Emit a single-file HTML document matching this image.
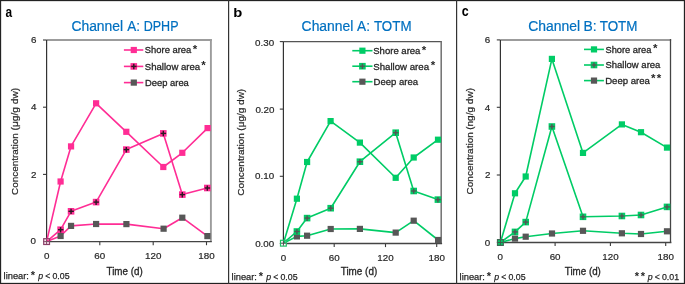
<!DOCTYPE html>
<html><head><meta charset="utf-8"><style>
html,body{margin:0;padding:0;background:#fff;width:685px;height:284px;overflow:hidden}
svg{display:block;will-change:transform}
text{font-family:"Liberation Sans", sans-serif}
</style></head><body>
<svg width="685" height="284" viewBox="0 0 685 284" font-family='"Liberation Sans", sans-serif'>
<rect x="0" y="0" width="685" height="284" fill="#fff"/>
<text x="5.44" y="17.00" font-size="14.5" font-weight="bold" fill="#000" textLength="6.61" lengthAdjust="spacingAndGlyphs" >a</text>
<text x="71.41" y="30.80" font-size="13.8" fill="#0070c0" stroke="#0070c0" stroke-width="0.2" textLength="51.70" lengthAdjust="spacingAndGlyphs" >Channel</text>
<text x="127.20" y="30.80" font-size="13.8" fill="#0070c0" stroke="#0070c0" stroke-width="0.2" textLength="12.78" lengthAdjust="spacingAndGlyphs" >A:</text>
<text x="143.70" y="30.80" font-size="13.8" fill="#0070c0" stroke="#0070c0" stroke-width="0.2" textLength="34.81" lengthAdjust="spacingAndGlyphs" >DPHP</text>
<line x1="46.6" y1="40.0" x2="211.85" y2="40.0" stroke="#9c9c9c" stroke-width="1.9"/>
<line x1="210.9" y1="39.05" x2="210.9" y2="241.6" stroke="#9c9c9c" stroke-width="1.9"/>
<line x1="43.0" y1="241.6" x2="46.6" y2="241.6" stroke="#3a3a3a" stroke-width="1.1"/>
<line x1="43.0" y1="174.4" x2="46.6" y2="174.4" stroke="#3a3a3a" stroke-width="1.1"/>
<line x1="43.0" y1="107.2" x2="46.6" y2="107.2" stroke="#3a3a3a" stroke-width="1.1"/>
<line x1="43.0" y1="40.0" x2="46.6" y2="40.0" stroke="#3a3a3a" stroke-width="1.1"/>
<text x="30.90" y="42.88" font-size="9.8" fill="#262626" stroke="#262626" stroke-width="0.2">6</text>
<text x="30.91" y="110.08" font-size="9.8" fill="#262626" stroke="#262626" stroke-width="0.2">4</text>
<text x="30.90" y="177.98" font-size="9.8" fill="#262626" stroke="#262626" stroke-width="0.2">2</text>
<text x="30.40" y="244.48" font-size="9.8" fill="#262626" stroke="#262626" stroke-width="0.2">0</text>
<text transform="translate(46.6,258.9) scale(1.0,1)" font-size="9.8" text-anchor="middle" fill="#262626" stroke="#262626" stroke-width="0.2" font-weight="normal" >0</text>
<line x1="99.8" y1="241.6" x2="99.8" y2="245.2" stroke="#3a3a3a" stroke-width="1.1"/>
<text transform="translate(99.8,258.9) scale(1.0,1)" font-size="9.8" text-anchor="middle" fill="#262626" stroke="#262626" stroke-width="0.2" font-weight="normal" >60</text>
<line x1="153.2" y1="241.6" x2="153.2" y2="245.2" stroke="#3a3a3a" stroke-width="1.1"/>
<text transform="translate(153.2,258.9) scale(1.0,1)" font-size="9.8" text-anchor="middle" fill="#262626" stroke="#262626" stroke-width="0.2" font-weight="normal" >120</text>
<line x1="206.5" y1="241.6" x2="206.5" y2="245.2" stroke="#3a3a3a" stroke-width="1.1"/>
<text transform="translate(206.5,258.9) scale(1.0,1)" font-size="9.8" text-anchor="middle" fill="#262626" stroke="#262626" stroke-width="0.2" font-weight="normal" >180</text>
<line x1="46.6" y1="40.0" x2="46.6" y2="241.6" stroke="#333" stroke-width="1.2"/>
<line x1="46.6" y1="241.6" x2="211.8" y2="241.6" stroke="#444" stroke-width="1.3"/>
<g transform="translate(17.7,0) rotate(-90)"><text x="-194.90" y="0.00" font-size="9.4" fill="#262626" stroke="#262626" stroke-width="0.2" textLength="61.75" lengthAdjust="spacingAndGlyphs" >Concentration</text><text x="-130.41" y="0.00" font-size="9.4" fill="#262626" stroke="#262626" stroke-width="0.2" textLength="42.50" lengthAdjust="spacingAndGlyphs" >(μg/g dw)</text></g>
<text x="106.55" y="275.00" font-size="10.4" fill="#262626" stroke="#262626" stroke-width="0.3" textLength="36.14" lengthAdjust="spacingAndGlyphs" >Time (d)</text>
<text x="3.57" y="278.50" font-size="9.4" fill="#262626" stroke="#262626" stroke-width="0.25" textLength="25.38" lengthAdjust="spacingAndGlyphs" >linear:</text>
<text x="30.86" y="279.06" font-size="11.00" font-weight="bold" fill="#262626">*</text>
<text x="38.30" y="278.50" font-size="9.4" font-style="italic" fill="#262626" stroke="#262626" stroke-width="0.25" textLength="4.89" lengthAdjust="spacingAndGlyphs" >p</text>
<text x="45.29" y="278.50" font-size="9.4" fill="#262626" stroke="#262626" stroke-width="0.25" textLength="5.07" lengthAdjust="spacingAndGlyphs" >&lt;</text>
<text x="52.47" y="278.50" font-size="9.4" fill="#262626" stroke="#262626" stroke-width="0.25" textLength="17.11" lengthAdjust="spacingAndGlyphs" >0.05</text>
<polyline points="46.6,241.6 60.6,236.0 71.0,225.9 96.1,224.0 126.4,224.1 163.6,228.7 182.3,217.7 207.4,236.1" fill="none" stroke="#ff2d95" stroke-width="1.6" stroke-linejoin="round"/>
<polyline points="46.6,241.6 60.6,229.7 71.0,211.3 96.1,202.1 126.3,149.6 163.3,133.4 182.3,194.6 207.3,188.0" fill="none" stroke="#ff2d95" stroke-width="1.6" stroke-linejoin="round"/>
<polyline points="46.6,241.6 60.6,181.5 71.0,146.4 96.1,103.3 126.3,131.8 163.3,167.0 182.3,152.8 207.6,128.1" fill="none" stroke="#ff2d95" stroke-width="1.6" stroke-linejoin="round"/>
<rect x="57.50" y="232.90" width="6.2" height="6.2" fill="#575757"/>
<rect x="67.95" y="222.80" width="6.2" height="6.2" fill="#575757"/>
<rect x="93.00" y="220.90" width="6.2" height="6.2" fill="#575757"/>
<rect x="123.30" y="221.00" width="6.2" height="6.2" fill="#575757"/>
<rect x="160.50" y="225.60" width="6.2" height="6.2" fill="#575757"/>
<rect x="179.20" y="214.60" width="6.2" height="6.2" fill="#575757"/>
<rect x="204.30" y="233.00" width="6.2" height="6.2" fill="#575757"/>
<rect x="57.30" y="226.40" width="6.6" height="6.6" fill="#ff2d95"/><line x1="60.60" y1="227.10" x2="60.60" y2="232.50" stroke="#2a1a22" stroke-width="1.4"/><line x1="58.00" y1="229.70" x2="63.40" y2="229.70" stroke="#2a1a22" stroke-width="1.4"/>
<rect x="67.75" y="208.00" width="6.6" height="6.6" fill="#ff2d95"/><line x1="71.05" y1="208.70" x2="71.05" y2="214.10" stroke="#2a1a22" stroke-width="1.4"/><line x1="68.45" y1="211.30" x2="73.85" y2="211.30" stroke="#2a1a22" stroke-width="1.4"/>
<rect x="92.80" y="198.80" width="6.6" height="6.6" fill="#ff2d95"/><line x1="96.10" y1="199.50" x2="96.10" y2="204.90" stroke="#2a1a22" stroke-width="1.4"/><line x1="93.50" y1="202.10" x2="98.90" y2="202.10" stroke="#2a1a22" stroke-width="1.4"/>
<rect x="123.00" y="146.30" width="6.6" height="6.6" fill="#ff2d95"/><line x1="126.30" y1="147.00" x2="126.30" y2="152.40" stroke="#2a1a22" stroke-width="1.4"/><line x1="123.70" y1="149.60" x2="129.10" y2="149.60" stroke="#2a1a22" stroke-width="1.4"/>
<rect x="160.00" y="130.10" width="6.6" height="6.6" fill="#ff2d95"/><line x1="163.30" y1="130.80" x2="163.30" y2="136.20" stroke="#2a1a22" stroke-width="1.4"/><line x1="160.70" y1="133.40" x2="166.10" y2="133.40" stroke="#2a1a22" stroke-width="1.4"/>
<rect x="179.00" y="191.30" width="6.6" height="6.6" fill="#ff2d95"/><line x1="182.30" y1="192.00" x2="182.30" y2="197.40" stroke="#2a1a22" stroke-width="1.4"/><line x1="179.70" y1="194.60" x2="185.10" y2="194.60" stroke="#2a1a22" stroke-width="1.4"/>
<rect x="204.00" y="184.70" width="6.6" height="6.6" fill="#ff2d95"/><line x1="207.30" y1="185.40" x2="207.30" y2="190.80" stroke="#2a1a22" stroke-width="1.4"/><line x1="204.70" y1="188.00" x2="210.10" y2="188.00" stroke="#2a1a22" stroke-width="1.4"/>
<rect x="57.50" y="178.40" width="6.2" height="6.2" fill="#ff2d95"/>
<rect x="67.95" y="143.30" width="6.2" height="6.2" fill="#ff2d95"/>
<rect x="93.00" y="100.20" width="6.2" height="6.2" fill="#ff2d95"/>
<rect x="123.20" y="128.70" width="6.2" height="6.2" fill="#ff2d95"/>
<rect x="160.20" y="163.90" width="6.2" height="6.2" fill="#ff2d95"/>
<rect x="179.20" y="149.70" width="6.2" height="6.2" fill="#ff2d95"/>
<rect x="204.50" y="125.00" width="6.2" height="6.2" fill="#ff2d95"/>
<rect x="43.70" y="238.70" width="5.80" height="5.80" fill="#fbe3ef" stroke="#8a4068" stroke-width="1.2"/><rect x="46.60" y="239.30" width="2.30" height="2.30" fill="#ff2d95"/><line x1="46.60" y1="239.10" x2="46.60" y2="244.10" stroke="#7a4a62" stroke-width="1"/><line x1="44.10" y1="241.60" x2="49.10" y2="241.60" stroke="#7a4a62" stroke-width="1"/>
<line x1="123.9" y1="50.0" x2="143.3" y2="50.0" stroke="#ff2d95" stroke-width="1.6"/>
<rect x="130.70" y="46.90" width="6.2" height="6.2" fill="#ff2d95"/>
<text x="144.78" y="52.90" font-size="9.8" fill="#262626" stroke="#262626" stroke-width="0.3" textLength="46.55" lengthAdjust="spacingAndGlyphs" >Shore area</text>
<text x="192.76" y="53.31" font-size="11.50" font-weight="bold" fill="#262626">*</text>
<line x1="123.9" y1="66.4" x2="143.3" y2="66.4" stroke="#ff2d95" stroke-width="1.6"/>
<rect x="130.50" y="63.10" width="6.6" height="6.6" fill="#ff2d95"/><line x1="133.80" y1="63.80" x2="133.80" y2="69.20" stroke="#2a1a22" stroke-width="1.4"/><line x1="131.20" y1="66.40" x2="136.60" y2="66.40" stroke="#2a1a22" stroke-width="1.4"/>
<text x="144.77" y="69.50" font-size="9.8" fill="#262626" stroke="#262626" stroke-width="0.3" textLength="55.39" lengthAdjust="spacingAndGlyphs" >Shallow area</text>
<text x="201.26" y="68.56" font-size="11.50" font-weight="bold" fill="#262626">*</text>
<line x1="123.9" y1="82.6" x2="143.3" y2="82.6" stroke="#ff2d95" stroke-width="1.6"/>
<rect x="130.70" y="79.50" width="6.2" height="6.2" fill="#575757"/>
<text x="145.00" y="85.60" font-size="9.8" fill="#262626" stroke="#262626" stroke-width="0.3" textLength="43.85" lengthAdjust="spacingAndGlyphs" >Deep area</text>
<text x="233.26" y="16.80" font-size="13.2" font-weight="bold" fill="#000" textLength="9.04" lengthAdjust="spacingAndGlyphs" >b</text>
<text x="301.61" y="30.70" font-size="13.8" fill="#0070c0" stroke="#0070c0" stroke-width="0.2" textLength="51.70" lengthAdjust="spacingAndGlyphs" >Channel</text>
<text x="357.10" y="30.70" font-size="13.8" fill="#0070c0" stroke="#0070c0" stroke-width="0.2" textLength="12.89" lengthAdjust="spacingAndGlyphs" >A:</text>
<text x="373.93" y="30.70" font-size="13.8" fill="#0070c0" stroke="#0070c0" stroke-width="0.2" textLength="37.60" lengthAdjust="spacingAndGlyphs" >TOTM</text>
<line x1="283.4" y1="41.6" x2="441.95" y2="41.6" stroke="#555555" stroke-width="1.3"/>
<line x1="441.2" y1="40.95" x2="441.2" y2="243.5" stroke="#707070" stroke-width="1.5"/>
<line x1="279.79999999999995" y1="243.5" x2="283.4" y2="243.5" stroke="#3a3a3a" stroke-width="1.1"/>
<line x1="279.79999999999995" y1="176.3" x2="283.4" y2="176.3" stroke="#3a3a3a" stroke-width="1.1"/>
<line x1="279.79999999999995" y1="109.1" x2="283.4" y2="109.1" stroke="#3a3a3a" stroke-width="1.1"/>
<line x1="279.79999999999995" y1="41.6" x2="283.4" y2="41.6" stroke="#3a3a3a" stroke-width="1.1"/>
<text x="255.08" y="46.08" font-size="9.8" fill="#262626" stroke="#262626" stroke-width="0.2">0.30</text>
<text x="255.38" y="113.03" font-size="9.8" fill="#262626" stroke="#262626" stroke-width="0.2">0.20</text>
<text x="255.08" y="179.03" font-size="9.8" fill="#262626" stroke="#262626" stroke-width="0.2">0.10</text>
<text x="255.18" y="246.88" font-size="9.8" fill="#262626" stroke="#262626" stroke-width="0.2">0.00</text>
<text transform="translate(283.4,260.9) scale(1.0,1)" font-size="9.8" text-anchor="middle" fill="#262626" stroke="#262626" stroke-width="0.2" font-weight="normal" >0</text>
<line x1="334.2" y1="243.5" x2="334.2" y2="247.1" stroke="#3a3a3a" stroke-width="1.1"/>
<text transform="translate(334.2,260.9) scale(1.0,1)" font-size="9.8" text-anchor="middle" fill="#262626" stroke="#262626" stroke-width="0.2" font-weight="normal" >60</text>
<line x1="385.5" y1="243.5" x2="385.5" y2="247.1" stroke="#3a3a3a" stroke-width="1.1"/>
<text transform="translate(385.5,260.9) scale(1.0,1)" font-size="9.8" text-anchor="middle" fill="#262626" stroke="#262626" stroke-width="0.2" font-weight="normal" >120</text>
<line x1="436.7" y1="243.5" x2="436.7" y2="247.1" stroke="#3a3a3a" stroke-width="1.1"/>
<text transform="translate(436.7,260.9) scale(1.0,1)" font-size="9.8" text-anchor="middle" fill="#262626" stroke="#262626" stroke-width="0.2" font-weight="normal" >180</text>
<line x1="283.4" y1="41.6" x2="283.4" y2="243.5" stroke="#333" stroke-width="1.2"/>
<line x1="283.4" y1="243.5" x2="442.09999999999997" y2="243.5" stroke="#444" stroke-width="1.3"/>
<g transform="translate(244.2,0) rotate(-90)"><text x="-195.70" y="0.00" font-size="9.4" fill="#262626" stroke="#262626" stroke-width="0.2" textLength="62.46" lengthAdjust="spacingAndGlyphs" >Concentration</text><text x="-130.70" y="0.00" font-size="9.4" fill="#262626" stroke="#262626" stroke-width="0.2" textLength="41.89" lengthAdjust="spacingAndGlyphs" >(μg/g dw)</text></g>
<text x="340.75" y="274.70" font-size="10.4" fill="#262626" stroke="#262626" stroke-width="0.3" textLength="36.44" lengthAdjust="spacingAndGlyphs" >Time (d)</text>
<text x="231.57" y="280.00" font-size="9.4" fill="#262626" stroke="#262626" stroke-width="0.25" textLength="25.38" lengthAdjust="spacingAndGlyphs" >linear:</text>
<text x="258.86" y="280.00" font-size="11.00" font-weight="bold" fill="#262626">*</text>
<text x="266.30" y="280.00" font-size="9.4" font-style="italic" fill="#262626" stroke="#262626" stroke-width="0.25" textLength="4.89" lengthAdjust="spacingAndGlyphs" >p</text>
<text x="273.29" y="280.00" font-size="9.4" fill="#262626" stroke="#262626" stroke-width="0.25" textLength="5.07" lengthAdjust="spacingAndGlyphs" >&lt;</text>
<text x="280.47" y="280.00" font-size="9.4" fill="#262626" stroke="#262626" stroke-width="0.25" textLength="17.11" lengthAdjust="spacingAndGlyphs" >0.05</text>
<polyline points="283.4,243.2 296.9,236.4 307.1,235.7 330.7,229.0 359.9,228.9 395.7,232.6 413.7,220.7 438.1,240.0" fill="none" stroke="#00cc66" stroke-width="1.6" stroke-linejoin="round"/>
<polyline points="283.4,243.2 296.9,231.5 307.1,218.1 330.7,208.2 359.9,161.7 395.7,132.7 413.7,191.0 437.9,199.6" fill="none" stroke="#00cc66" stroke-width="1.6" stroke-linejoin="round"/>
<polyline points="283.4,243.2 296.9,198.7 307.1,162.0 330.6,121.1 359.9,142.6 395.7,177.8 413.7,157.5 438.0,139.7" fill="none" stroke="#00cc66" stroke-width="1.6" stroke-linejoin="round"/>
<rect x="293.80" y="233.30" width="6.2" height="6.2" fill="#575757"/>
<rect x="304.00" y="232.60" width="6.2" height="6.2" fill="#575757"/>
<rect x="327.60" y="225.90" width="6.2" height="6.2" fill="#575757"/>
<rect x="356.80" y="225.80" width="6.2" height="6.2" fill="#575757"/>
<rect x="392.60" y="229.50" width="6.2" height="6.2" fill="#575757"/>
<rect x="410.60" y="217.60" width="6.2" height="6.2" fill="#575757"/>
<rect x="435.00" y="236.90" width="6.2" height="6.2" fill="#575757"/>
<rect x="293.60" y="228.20" width="6.6" height="6.6" fill="#00cc66"/><line x1="296.90" y1="228.90" x2="296.90" y2="234.30" stroke="#555555" stroke-width="1.4"/><line x1="294.30" y1="231.50" x2="299.70" y2="231.50" stroke="#555555" stroke-width="1.4"/>
<rect x="303.80" y="214.80" width="6.6" height="6.6" fill="#00cc66"/><line x1="307.10" y1="215.50" x2="307.10" y2="220.90" stroke="#555555" stroke-width="1.4"/><line x1="304.50" y1="218.10" x2="309.90" y2="218.10" stroke="#555555" stroke-width="1.4"/>
<rect x="327.40" y="204.90" width="6.6" height="6.6" fill="#00cc66"/><line x1="330.70" y1="205.60" x2="330.70" y2="211.00" stroke="#555555" stroke-width="1.4"/><line x1="328.10" y1="208.20" x2="333.50" y2="208.20" stroke="#555555" stroke-width="1.4"/>
<rect x="356.60" y="158.40" width="6.6" height="6.6" fill="#00cc66"/><line x1="359.90" y1="159.10" x2="359.90" y2="164.50" stroke="#555555" stroke-width="1.4"/><line x1="357.30" y1="161.70" x2="362.70" y2="161.70" stroke="#555555" stroke-width="1.4"/>
<rect x="392.40" y="129.40" width="6.6" height="6.6" fill="#00cc66"/><line x1="395.70" y1="130.10" x2="395.70" y2="135.50" stroke="#555555" stroke-width="1.4"/><line x1="393.10" y1="132.70" x2="398.50" y2="132.70" stroke="#555555" stroke-width="1.4"/>
<rect x="410.40" y="187.70" width="6.6" height="6.6" fill="#00cc66"/><line x1="413.70" y1="188.40" x2="413.70" y2="193.80" stroke="#555555" stroke-width="1.4"/><line x1="411.10" y1="191.00" x2="416.50" y2="191.00" stroke="#555555" stroke-width="1.4"/>
<rect x="434.60" y="196.30" width="6.6" height="6.6" fill="#00cc66"/><line x1="437.90" y1="197.00" x2="437.90" y2="202.40" stroke="#555555" stroke-width="1.4"/><line x1="435.30" y1="199.60" x2="440.70" y2="199.60" stroke="#555555" stroke-width="1.4"/>
<rect x="293.80" y="195.60" width="6.2" height="6.2" fill="#00cc66"/>
<rect x="304.00" y="158.90" width="6.2" height="6.2" fill="#00cc66"/>
<rect x="327.50" y="118.00" width="6.2" height="6.2" fill="#00cc66"/>
<rect x="356.80" y="139.50" width="6.2" height="6.2" fill="#00cc66"/>
<rect x="392.60" y="174.70" width="6.2" height="6.2" fill="#00cc66"/>
<rect x="410.60" y="154.40" width="6.2" height="6.2" fill="#00cc66"/>
<rect x="434.90" y="136.60" width="6.2" height="6.2" fill="#00cc66"/>
<rect x="280.50" y="240.30" width="5.80" height="5.80" fill="#ffffff" stroke="#1fbf66" stroke-width="1.2"/><rect x="283.40" y="240.90" width="2.30" height="2.30" fill="#00cc66"/><line x1="283.40" y1="240.70" x2="283.40" y2="245.70" stroke="#4a4a4a" stroke-width="1"/><line x1="280.90" y1="243.20" x2="285.90" y2="243.20" stroke="#4a4a4a" stroke-width="1"/>
<line x1="352.3" y1="50.7" x2="372.5" y2="50.7" stroke="#00cc66" stroke-width="1.6"/>
<rect x="359.30" y="47.60" width="6.2" height="6.2" fill="#00cc66"/>
<text x="373.27" y="54.10" font-size="9.8" fill="#262626" stroke="#262626" stroke-width="0.3" textLength="47.16" lengthAdjust="spacingAndGlyphs" >Shore area</text>
<text x="421.66" y="53.96" font-size="11.50" font-weight="bold" fill="#262626">*</text>
<line x1="352.3" y1="66.2" x2="372.5" y2="66.2" stroke="#00cc66" stroke-width="1.6"/>
<rect x="359.10" y="62.90" width="6.6" height="6.6" fill="#00cc66"/><line x1="362.40" y1="63.60" x2="362.40" y2="69.00" stroke="#555555" stroke-width="1.4"/><line x1="359.80" y1="66.20" x2="365.20" y2="66.20" stroke="#555555" stroke-width="1.4"/>
<text x="373.27" y="69.50" font-size="9.8" fill="#262626" stroke="#262626" stroke-width="0.3" textLength="55.79" lengthAdjust="spacingAndGlyphs" >Shallow area</text>
<text x="430.66" y="68.71" font-size="11.50" font-weight="bold" fill="#262626">*</text>
<line x1="352.3" y1="81.7" x2="372.5" y2="81.7" stroke="#00cc66" stroke-width="1.6"/>
<rect x="359.30" y="78.60" width="6.2" height="6.2" fill="#575757"/>
<text x="373.59" y="85.00" font-size="9.8" fill="#262626" stroke="#262626" stroke-width="0.3" textLength="44.56" lengthAdjust="spacingAndGlyphs" >Deep area</text>
<text x="461.70" y="16.10" font-size="14.8" font-weight="bold" fill="#000" textLength="6.92" lengthAdjust="spacingAndGlyphs" >c</text>
<text x="528.30" y="31.00" font-size="13.8" fill="#0070c0" stroke="#0070c0" stroke-width="0.2" textLength="51.80" lengthAdjust="spacingAndGlyphs" >Channel</text>
<text x="583.59" y="31.00" font-size="13.8" fill="#0070c0" stroke="#0070c0" stroke-width="0.2" textLength="13.13" lengthAdjust="spacingAndGlyphs" >B:</text>
<text x="599.73" y="31.00" font-size="13.8" fill="#0070c0" stroke="#0070c0" stroke-width="0.2" textLength="37.80" lengthAdjust="spacingAndGlyphs" >TOTM</text>
<line x1="500.4" y1="40.0" x2="671.15" y2="40.0" stroke="#9c9c9c" stroke-width="1.9"/>
<line x1="670.5" y1="39.05" x2="670.5" y2="242.5" stroke="#454545" stroke-width="1.3"/>
<line x1="496.79999999999995" y1="242.3" x2="500.4" y2="242.3" stroke="#3a3a3a" stroke-width="1.1"/>
<line x1="496.79999999999995" y1="175.0" x2="500.4" y2="175.0" stroke="#3a3a3a" stroke-width="1.1"/>
<line x1="496.79999999999995" y1="107.3" x2="500.4" y2="107.3" stroke="#3a3a3a" stroke-width="1.1"/>
<line x1="496.79999999999995" y1="39.9" x2="500.4" y2="39.9" stroke="#3a3a3a" stroke-width="1.1"/>
<text x="484.80" y="42.88" font-size="9.8" fill="#262626" stroke="#262626" stroke-width="0.2">6</text>
<text x="484.71" y="110.68" font-size="9.8" fill="#262626" stroke="#262626" stroke-width="0.2">4</text>
<text x="484.90" y="177.98" font-size="9.8" fill="#262626" stroke="#262626" stroke-width="0.2">2</text>
<text x="484.70" y="245.73" font-size="9.8" fill="#262626" stroke="#262626" stroke-width="0.2">0</text>
<text transform="translate(500.3,259.9) scale(1.0,1)" font-size="9.8" text-anchor="middle" fill="#262626" stroke="#262626" stroke-width="0.2" font-weight="normal" >0</text>
<line x1="555.1" y1="242.5" x2="555.1" y2="246.1" stroke="#3a3a3a" stroke-width="1.1"/>
<text transform="translate(555.1,259.9) scale(1.0,1)" font-size="9.8" text-anchor="middle" fill="#262626" stroke="#262626" stroke-width="0.2" font-weight="normal" >60</text>
<line x1="610.4" y1="242.5" x2="610.4" y2="246.1" stroke="#3a3a3a" stroke-width="1.1"/>
<text transform="translate(610.4,259.9) scale(1.0,1)" font-size="9.8" text-anchor="middle" fill="#262626" stroke="#262626" stroke-width="0.2" font-weight="normal" >120</text>
<line x1="665.7" y1="242.5" x2="665.7" y2="246.1" stroke="#3a3a3a" stroke-width="1.1"/>
<text transform="translate(665.7,259.9) scale(1.0,1)" font-size="9.8" text-anchor="middle" fill="#262626" stroke="#262626" stroke-width="0.2" font-weight="normal" >180</text>
<line x1="500.4" y1="40.0" x2="500.4" y2="242.5" stroke="#333" stroke-width="1.2"/>
<line x1="500.4" y1="242.5" x2="671.4" y2="242.5" stroke="#444" stroke-width="1.3"/>
<g transform="translate(472.7,0) rotate(-90)"><text x="-194.40" y="0.00" font-size="9.4" fill="#262626" stroke="#262626" stroke-width="0.2" textLength="62.16" lengthAdjust="spacingAndGlyphs" >Concentration</text><text x="-129.80" y="0.00" font-size="9.4" fill="#262626" stroke="#262626" stroke-width="0.2" textLength="41.79" lengthAdjust="spacingAndGlyphs" >(ng/g dw)</text></g>
<text x="564.85" y="274.70" font-size="10.4" fill="#262626" stroke="#262626" stroke-width="0.3" textLength="36.03" lengthAdjust="spacingAndGlyphs" >Time (d)</text>
<text x="459.57" y="280.00" font-size="9.4" fill="#262626" stroke="#262626" stroke-width="0.25" textLength="25.38" lengthAdjust="spacingAndGlyphs" >linear:</text>
<text x="486.86" y="280.00" font-size="11.00" font-weight="bold" fill="#262626">*</text>
<text x="494.30" y="280.00" font-size="9.4" font-style="italic" fill="#262626" stroke="#262626" stroke-width="0.25" textLength="4.89" lengthAdjust="spacingAndGlyphs" >p</text>
<text x="501.29" y="280.00" font-size="9.4" fill="#262626" stroke="#262626" stroke-width="0.25" textLength="5.07" lengthAdjust="spacingAndGlyphs" >&lt;</text>
<text x="508.47" y="280.00" font-size="9.4" fill="#262626" stroke="#262626" stroke-width="0.25" textLength="17.11" lengthAdjust="spacingAndGlyphs" >0.05</text>
<polyline points="500.4,242.5 515.0,238.6 525.7,236.7 552.0,233.5 583.0,230.8 621.9,233.3 641.0,234.0 667.0,231.3" fill="none" stroke="#00cc66" stroke-width="1.6" stroke-linejoin="round"/>
<polyline points="500.4,242.5 515.0,231.9 525.7,222.1 551.9,126.5 583.0,216.8 621.9,216.0 641.0,215.0 667.0,206.9" fill="none" stroke="#00cc66" stroke-width="1.6" stroke-linejoin="round"/>
<polyline points="500.4,242.5 515.0,193.3 525.7,176.5 551.9,58.9 583.0,152.9 621.9,124.4 641.0,132.2 667.0,147.6" fill="none" stroke="#00cc66" stroke-width="1.6" stroke-linejoin="round"/>
<rect x="511.90" y="235.50" width="6.2" height="6.2" fill="#575757"/>
<rect x="522.60" y="233.60" width="6.2" height="6.2" fill="#575757"/>
<rect x="548.90" y="230.40" width="6.2" height="6.2" fill="#575757"/>
<rect x="579.90" y="227.70" width="6.2" height="6.2" fill="#575757"/>
<rect x="618.80" y="230.20" width="6.2" height="6.2" fill="#575757"/>
<rect x="637.90" y="230.90" width="6.2" height="6.2" fill="#575757"/>
<rect x="663.90" y="228.20" width="6.2" height="6.2" fill="#575757"/>
<rect x="511.70" y="228.60" width="6.6" height="6.6" fill="#00cc66"/><line x1="515.00" y1="229.30" x2="515.00" y2="234.70" stroke="#555555" stroke-width="1.4"/><line x1="512.40" y1="231.90" x2="517.80" y2="231.90" stroke="#555555" stroke-width="1.4"/>
<rect x="522.40" y="218.80" width="6.6" height="6.6" fill="#00cc66"/><line x1="525.70" y1="219.50" x2="525.70" y2="224.90" stroke="#555555" stroke-width="1.4"/><line x1="523.10" y1="222.10" x2="528.50" y2="222.10" stroke="#555555" stroke-width="1.4"/>
<rect x="548.60" y="123.20" width="6.6" height="6.6" fill="#00cc66"/><line x1="551.90" y1="123.90" x2="551.90" y2="129.30" stroke="#555555" stroke-width="1.4"/><line x1="549.30" y1="126.50" x2="554.70" y2="126.50" stroke="#555555" stroke-width="1.4"/>
<rect x="579.70" y="213.50" width="6.6" height="6.6" fill="#00cc66"/><line x1="583.00" y1="214.20" x2="583.00" y2="219.60" stroke="#555555" stroke-width="1.4"/><line x1="580.40" y1="216.80" x2="585.80" y2="216.80" stroke="#555555" stroke-width="1.4"/>
<rect x="618.60" y="212.70" width="6.6" height="6.6" fill="#00cc66"/><line x1="621.90" y1="213.40" x2="621.90" y2="218.80" stroke="#555555" stroke-width="1.4"/><line x1="619.30" y1="216.00" x2="624.70" y2="216.00" stroke="#555555" stroke-width="1.4"/>
<rect x="637.70" y="211.70" width="6.6" height="6.6" fill="#00cc66"/><line x1="641.00" y1="212.40" x2="641.00" y2="217.80" stroke="#555555" stroke-width="1.4"/><line x1="638.40" y1="215.00" x2="643.80" y2="215.00" stroke="#555555" stroke-width="1.4"/>
<rect x="663.70" y="203.60" width="6.6" height="6.6" fill="#00cc66"/><line x1="667.00" y1="204.30" x2="667.00" y2="209.70" stroke="#555555" stroke-width="1.4"/><line x1="664.40" y1="206.90" x2="669.80" y2="206.90" stroke="#555555" stroke-width="1.4"/>
<rect x="511.90" y="190.20" width="6.2" height="6.2" fill="#00cc66"/>
<rect x="522.60" y="173.40" width="6.2" height="6.2" fill="#00cc66"/>
<rect x="548.80" y="55.80" width="6.2" height="6.2" fill="#00cc66"/>
<rect x="579.90" y="149.80" width="6.2" height="6.2" fill="#00cc66"/>
<rect x="618.80" y="121.30" width="6.2" height="6.2" fill="#00cc66"/>
<rect x="637.90" y="129.10" width="6.2" height="6.2" fill="#00cc66"/>
<rect x="663.90" y="144.50" width="6.2" height="6.2" fill="#00cc66"/>
<rect x="497.50" y="239.60" width="5.80" height="5.80" fill="#00cc66" stroke="#3f6a55" stroke-width="1.2"/><line x1="500.40" y1="240.00" x2="500.40" y2="245.00" stroke="#3f5a4a" stroke-width="1"/><line x1="497.90" y1="242.50" x2="502.90" y2="242.50" stroke="#3f5a4a" stroke-width="1"/>
<line x1="584.0" y1="49.4" x2="603.9" y2="49.4" stroke="#00cc66" stroke-width="1.6"/>
<rect x="590.90" y="46.30" width="6.2" height="6.2" fill="#00cc66"/>
<text x="605.49" y="52.50" font-size="9.8" fill="#262626" stroke="#262626" stroke-width="0.3" textLength="45.94" lengthAdjust="spacingAndGlyphs" >Shore area</text>
<text x="653.11" y="52.36" font-size="11.50" font-weight="bold" fill="#262626">*</text>
<line x1="584.0" y1="65.0" x2="603.9" y2="65.0" stroke="#00cc66" stroke-width="1.6"/>
<rect x="590.70" y="61.70" width="6.6" height="6.6" fill="#00cc66"/><line x1="594.00" y1="62.40" x2="594.00" y2="67.80" stroke="#555555" stroke-width="1.4"/><line x1="591.40" y1="65.00" x2="596.80" y2="65.00" stroke="#555555" stroke-width="1.4"/>
<text x="605.48" y="67.90" font-size="9.8" fill="#262626" stroke="#262626" stroke-width="0.3" textLength="54.89" lengthAdjust="spacingAndGlyphs" >Shallow area</text>
<line x1="584.0" y1="80.6" x2="603.9" y2="80.6" stroke="#00cc66" stroke-width="1.6"/>
<rect x="590.90" y="77.50" width="6.2" height="6.2" fill="#575757"/>
<text x="605.18" y="83.70" font-size="9.8" fill="#262626" stroke="#262626" stroke-width="0.3" textLength="44.67" lengthAdjust="spacingAndGlyphs" >Deep area</text>
<text x="651.06" y="82.31" font-size="11.50" font-weight="bold" fill="#262626">*</text>
<text x="656.81" y="82.31" font-size="11.50" font-weight="bold" fill="#262626">*</text>
<text x="634.65" y="280.11" font-size="11.00" font-weight="bold" fill="#262626">*</text>
<text x="640.65" y="280.11" font-size="11.00" font-weight="bold" fill="#262626">*</text>
<text x="647.80" y="280.00" font-size="9.4" font-style="italic" fill="#262626" stroke="#262626" stroke-width="0.25" textLength="4.89" lengthAdjust="spacingAndGlyphs" >p</text>
<text x="654.79" y="280.00" font-size="9.4" fill="#262626" stroke="#262626" stroke-width="0.25" textLength="5.07" lengthAdjust="spacingAndGlyphs" >&lt;</text>
<text x="661.97" y="280.00" font-size="9.4" fill="#262626" stroke="#262626" stroke-width="0.25" textLength="17.11" lengthAdjust="spacingAndGlyphs" >0.01</text>
<rect x="0.5" y="0.5" width="684" height="283" fill="none" stroke="#222" stroke-width="1.3"/>
<line x1="228.6" y1="0" x2="228.6" y2="284" stroke="#333" stroke-width="1.2"/>
<line x1="456.6" y1="0" x2="456.6" y2="284" stroke="#333" stroke-width="1.2"/>
</svg>
</body></html>
